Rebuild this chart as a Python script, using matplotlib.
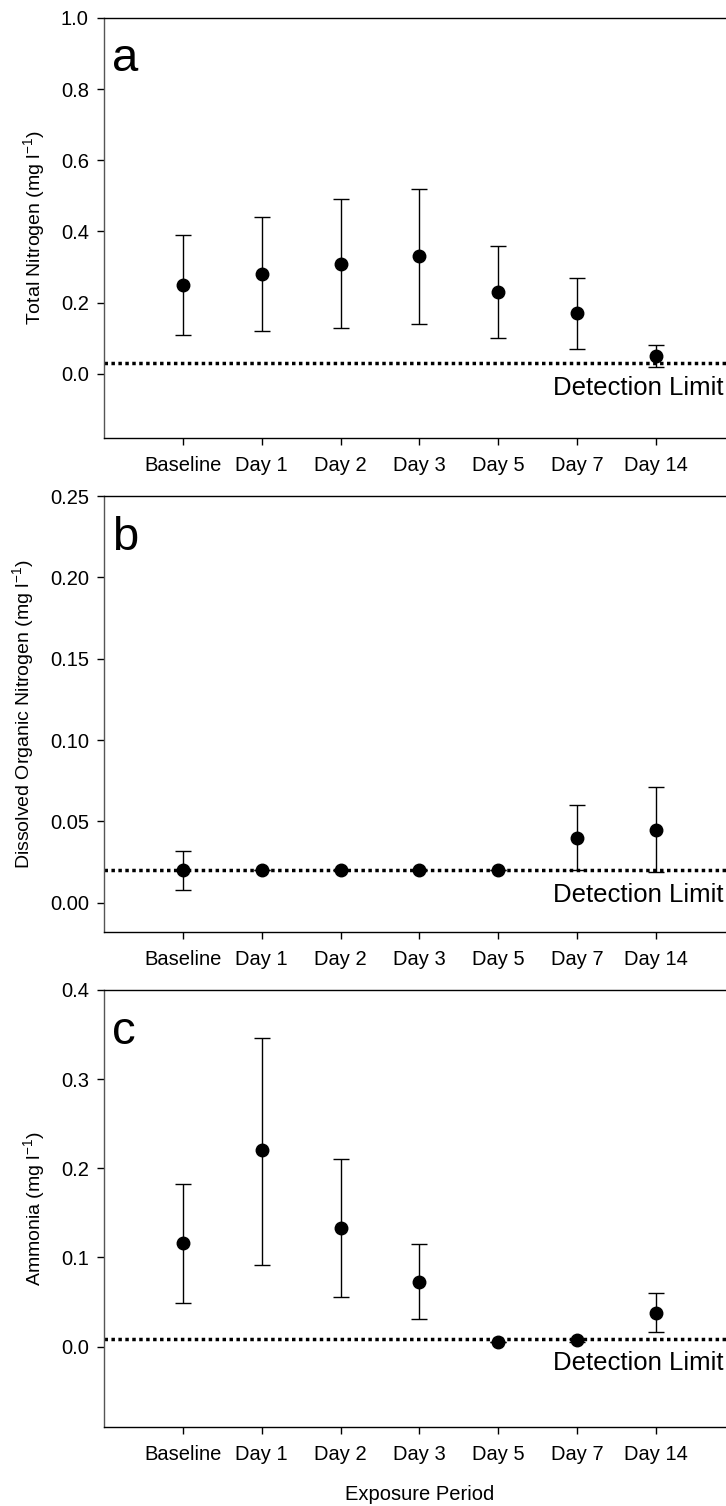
import numpy as np
import matplotlib
matplotlib.use('Agg')
import matplotlib.pyplot as plt

plt.rcParams['font.family'] = ['Liberation Sans', 'DejaVu Sans']
plt.rcParams['mathtext.fontset'] = 'custom'
plt.rcParams['mathtext.rm'] = 'Liberation Sans'
plt.rcParams['mathtext.it'] = 'Liberation Sans'

# categories
periods = ['Baseline', 'Day 1', 'Day 2', 'Day 3', 'Day 5', 'Day 7', 'Day 14']

# a: total nitrogen (mean, lower, upper)
tn_mean = [0.25, 0.28, 0.31, 0.33, 0.23, 0.17, 0.05]
tn_low = [0.11, 0.12, 0.13, 0.14, 0.10, 0.07, 0.02]
tn_high = [0.39, 0.44, 0.49, 0.52, 0.36, 0.27, 0.08]
tn_detlim = 0.03

# b: dissolved organic nitrogen
don_mean = [0.020, 0.020, 0.020, 0.020, 0.020, 0.040, 0.045]
don_low = [0.008, 0.020, 0.020, 0.020, 0.020, 0.020, 0.019]
don_high = [0.032, 0.020, 0.020, 0.020, 0.020, 0.060, 0.071]
don_detlim = 0.02

# c: ammonia
nh_mean = [0.116, 0.220, 0.133, 0.073, 0.005, 0.007, 0.038]
nh_low = [0.049, 0.092, 0.056, 0.031, 0.005, 0.005, 0.016]
nh_high = [0.182, 0.346, 0.210, 0.115, 0.005, 0.009, 0.060]
nh_detlim = 0.009

panels = [
    ('a', tn_mean, tn_low, tn_high, tn_detlim, 'Total Nitrogen (mg l$^{-1}$)',
     (-0.18, 1.0), np.arange(0, 1.01, 0.2), '%.1f', [0.1433, 0.7092, 0.869, 0.2789]),
    ('b', don_mean, don_low, don_high, don_detlim, 'Dissolved Organic Nitrogen (mg l$^{-1}$)',
     (-0.018, 0.25), np.arange(0, 0.251, 0.05), '%.2f', [0.1433, 0.3811, 0.869, 0.2895]),
    ('c', nh_mean, nh_low, nh_high, nh_detlim, 'Ammonia (mg l$^{-1}$)',
     (-0.09, 0.4), np.arange(0, 0.41, 0.1), '%.1f', [0.1433, 0.0525, 0.869, 0.2902]),
]

fig = plt.figure(figsize=(7.26, 15.06), dpi=100)
x = np.arange(len(periods))

for letter, mean, low, high, det, ylab, ylim, yticks, fmt, pos in panels:
    ax = fig.add_axes(pos)
    mean = np.array(mean)
    yerr = [mean - np.array(low), np.array(high) - mean]
    ax.axhline(det, color='black', lw=2.5, linestyle=(0, (1, 1)), zorder=1)
    ax.errorbar(x, mean, yerr=yerr, fmt='o', color='black', ms=9,
                elinewidth=1, capsize=6, capthick=1, zorder=3)
    ax.annotate('Detection Limit', xy=(6.86, det), xytext=(0, -9),
                textcoords='offset points', ha='right', va='top', fontsize=18.5)
    ax.text(0.012, 0.955, letter, transform=ax.transAxes, ha='left', va='top', fontsize=34)

    ax.set_xlim(-1, 7)
    ax.set_ylim(*ylim)
    ax.set_xticks(x)
    ax.set_xticklabels(periods)
    ax.set_yticks(yticks)
    ax.set_yticklabels([fmt % v for v in yticks])
    ax.tick_params(direction='out', labelsize=14.5, length=5, width=1)
    ax.tick_params(axis='y', pad=6)
    ax.tick_params(axis='x', pad=8)
    ax.set_ylabel(ylab, fontsize=14, labelpad=10)
    for s in ax.spines.values():
        s.set_linewidth(1)
    ax.spines['left'].set_color('#555555')

    if letter == 'c':
        ax.set_xlabel('Exposure Period', fontsize=14.5, labelpad=15)

plt.savefig('out.png', dpi=100)
